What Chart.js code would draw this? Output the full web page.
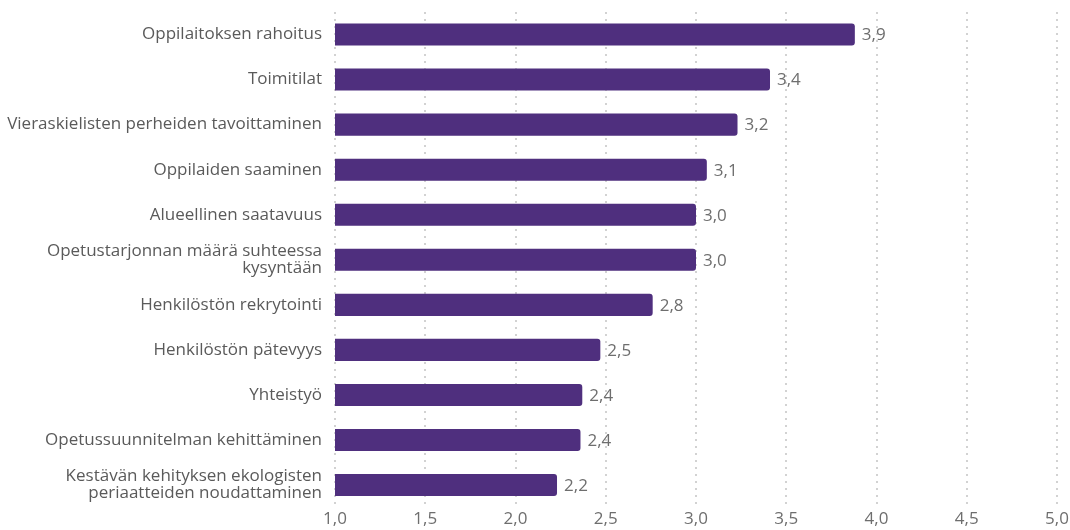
<!DOCTYPE html>
<html>
<head>
<meta charset="utf-8">
<script src="https://cdn.jsdelivr.net/npm/chart.js@4/dist/chart.umd.min.js"></script>
<style>
  html, body { margin: 0; padding: 0; background: #fff; }
  #wrap { width: 1070px; height: 530px; }
</style>
</head>
<body>
<div id="wrap"><canvas id="myChart"></canvas></div>
<script>
const categories = [
    'Oppilaitoksen rahoitus',
    'Toimitilat',
    'Vieraskielisten perheiden tavoittaminen',
    'Oppilaiden saaminen',
    'Alueellinen saatavuus',
    ['Opetustarjonnan määrä suhteessa', 'kysyntään'],
    'Henkilöstön rekrytointi',
    'Henkilöstön pätevyys',
    'Yhteistyö',
    'Opetussuunnitelman kehittäminen',
    ['Kestävän kehityksen ekologisten', 'periaatteiden noudattaminen']
];
const values = [3.88, 3.41, 3.23, 3.06, 3.0, 3.0, 2.76, 2.47, 2.37, 2.36, 2.23];
const xTicks = [1.0, 1.5, 2.0, 2.5, 3.0, 3.5, 4.0, 4.5, 5.0];

const fmt = v => v.toFixed(1).replace('.', ',');

// labels drawn after each bar end
const valueLabels = {
    id: 'valueLabels',
    afterDatasetsDraw(chart) {
        const c = chart.ctx;
        const meta = chart.getDatasetMeta(0);
        c.save();
        c.font = '17px "Open Sans"';
        c.fillStyle = '#6e6e6e';
        c.textAlign = 'left';
        c.textBaseline = 'middle';
        meta.data.forEach((bar, i) => {
            c.fillText(fmt(values[i]), bar.x + 7, bar.y + 1);
        });
        c.restore();
    }
};

const ctx = document.getElementById('myChart').getContext('2d');
const myChart = new Chart(ctx, {
    type: 'bar',
    data: {
        labels: categories,
        datasets: [{
            data: values,
            backgroundColor: '#4f2f7e',
            borderRadius: 3,
            borderSkipped: 'start',
            barPercentage: 0.49,
            categoryPercentage: 1.0
        }]
    },
    options: {
        indexAxis: 'y',
        responsive: true,
        maintainAspectRatio: false,
        animation: false,
        layout: { padding: { top: 12, right: 13, bottom: 0, left: 0 } },
        plugins: {
            legend: { display: false },
            tooltip: { enabled: false }
        },
        scales: {
            x: {
                min: 1,
                max: 5,
                afterBuildTicks: axis => { axis.ticks = xTicks.map(v => ({ value: v })); },
                ticks: {
                    callback: v => fmt(v),
                    color: '#6e6e6e',
                    font: { family: 'Open Sans', size: 17 },
                    padding: 1
                },
                grid: {
                    color: '#d2d2d2',
                    lineWidth: 2,
                    drawTicks: false
                },
                border: { display: false, dash: [2, 5] }
            },
            y: {
                afterFit: axis => {
                    axis.width = 335;
                    axis.paddingTop = 0;
                    axis.paddingBottom = 0;
                },
                ticks: {
                    color: '#5a5a5a',
                    font: { family: 'Open Sans', size: 17, lineHeight: 1.0 },
                    padding: 13
                },
                grid: { display: false, drawTicks: false },
                border: { display: false }
            }
        }
    },
    plugins: [valueLabels]
});
</script>
</body>
</html>
